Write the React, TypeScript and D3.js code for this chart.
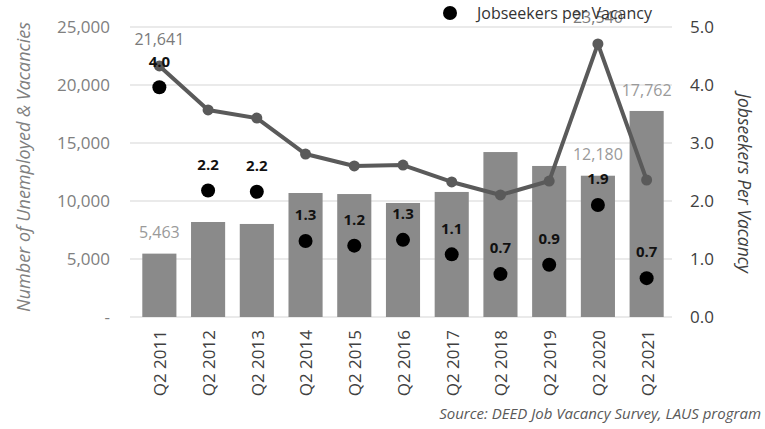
import React from 'react';
import * as d3 from 'd3';

const years = ['Q2 2011', 'Q2 2012', 'Q2 2013', 'Q2 2014', 'Q2 2015', 'Q2 2016', 'Q2 2017', 'Q2 2018', 'Q2 2019', 'Q2 2020', 'Q2 2021'];
const vacancies = [5463, 8190, 8020, 10690, 10600, 9830, 10780, 14220, 13020, 12180, 17762];
const unemployed = [21641, 17850, 17150, 14050, 13020, 13100, 11640, 10520, 11720, 23540, 11810];
const ratio = [3.96, 2.18, 2.16, 1.31, 1.23, 1.33, 1.08, 0.74, 0.9, 1.93, 0.67];
const barLabelYears = ['Q2 2011', 'Q2 2020', 'Q2 2021'];
const lineLabelYears = ['Q2 2011', 'Q2 2020'];
const leftTicks = [0, 5000, 10000, 15000, 20000, 25000];
const rightTicks = [0, 1, 2, 3, 4, 5];

const W = 765;
const H = 429;
const font = '"Open Sans", sans-serif';

const App: React.FC = () => {
  const x = d3.scaleBand<string>().domain(years).range([135, 671]).paddingInner(0.3).paddingOuter(0.15);
  const y = d3.scaleLinear().domain([0, 25000]).range([317, 27]);
  const y2 = d3.scaleLinear().domain([0, 5]).range([317, 27]);
  const cx = (d: string) => (x(d) ?? 0) + x.bandwidth() / 2;
  const fmt = d3.format(',');

  const line = d3
    .line<number>()
    .x((_, i) => cx(years[i]))
    .y((d) => y(d));

  return (
    <svg width={W} height={H} style={{ position: 'absolute', left: 0, top: 0, background: '#fff' }} fontFamily={font}>
      {/* gridlines */}
      {leftTicks.map((t) => (
        <line key={t} x1={130} x2={672} y1={y(t)} y2={y(t)} stroke="#e3e3e3" strokeWidth={1.5} />
      ))}

      {/* left axis labels */}
      {leftTicks.map((t) => (
        <text key={t} x={110} y={y(t)} dy="0.35em" textAnchor="end" fontSize={17} fill="#808080">
          {t === 0 ? '-' : fmt(t)}
        </text>
      ))}

      {/* right axis labels */}
      {rightTicks.map((t) => (
        <text key={t} x={690} y={y2(t)} dy="0.35em" fontSize={17} fill="#404040">
          {t.toFixed(1)}
        </text>
      ))}

      {/* bars */}
      {years.map((d, i) => (
        <rect key={d} x={x(d)} y={y(vacancies[i])} width={x.bandwidth()} height={y(0) - y(vacancies[i])} fill="#8a8a8a" />
      ))}

      {/* unemployed line */}
      <path d={line(unemployed) ?? ''} fill="none" stroke="#5a5a5a" strokeWidth={4} strokeLinejoin="round" />
      {years.map((d, i) => (
        <circle key={d} cx={cx(d)} cy={y(unemployed[i])} r={5.5} fill="#5a5a5a" />
      ))}

      {/* jobseekers per vacancy dots */}
      {years.map((d, i) => (
        <circle key={d} cx={cx(d)} cy={y2(ratio[i])} r={7} fill="#000" />
      ))}

      {/* bar labels */}
      {years.map((d, i) =>
        barLabelYears.includes(d) ? (
          <text key={d} x={cx(d)} y={y(vacancies[i]) - 21} dy="0.35em" textAnchor="middle" fontSize={16} fill="#9a9a9a">
            {fmt(vacancies[i])}
          </text>
        ) : null
      )}

      {/* line labels */}
      {years.map((d, i) =>
        lineLabelYears.includes(d) ? (
          <text key={d} x={cx(d)} y={y(unemployed[i]) - 27} dy="0.35em" textAnchor="middle" fontSize={16} fill="#7a7a7a">
            {fmt(unemployed[i])}
          </text>
        ) : null
      )}

      {/* ratio labels */}
      {years.map((d, i) => (
        <text key={d} x={cx(d)} y={y2(ratio[i]) - 26} dy="0.35em" textAnchor="middle" fontSize={15} fontWeight="bold" fill="#111">
          {ratio[i].toFixed(1)}
        </text>
      ))}

      {/* x axis labels */}
      {years.map((d) => (
        <text
          key={d}
          transform={`translate(${cx(d) + 1},330) rotate(-90)`}
          dy="0.35em"
          textAnchor="end"
          fontSize={17}
          fill="#404040"
        >
          {d}
        </text>
      ))}

      {/* legend */}
      <circle cx={450} cy={13} r={7} fill="#000" />
      <text x={477} y={13} dy="0.35em" fontSize={16} fill="#333">
        Jobseekers per Vacancy
      </text>

      {/* axis titles */}
      <text
        transform={`translate(24,${167}) rotate(-90)`}
        dy="0.35em"
        textAnchor="middle"
        fontSize={18}
        fontStyle="italic"
        fill="#7f7f7f"
      >
        Number of Unemployed &amp; Vacancies
      </text>
      <text
        transform={`translate(744,${183}) rotate(90)`}
        dy="0.35em"
        textAnchor="middle"
        fontSize={17.5}
        fontStyle="italic"
        fill="#404040"
      >
        Jobseekers Per Vacancy
      </text>

      {/* source */}
      <text x={761} y={419} textAnchor="end" fontSize={15} fontStyle="italic" fill="#595959">
        Source: DEED Job Vacancy Survey, LAUS program
      </text>
    </svg>
  );
};

export default App;
